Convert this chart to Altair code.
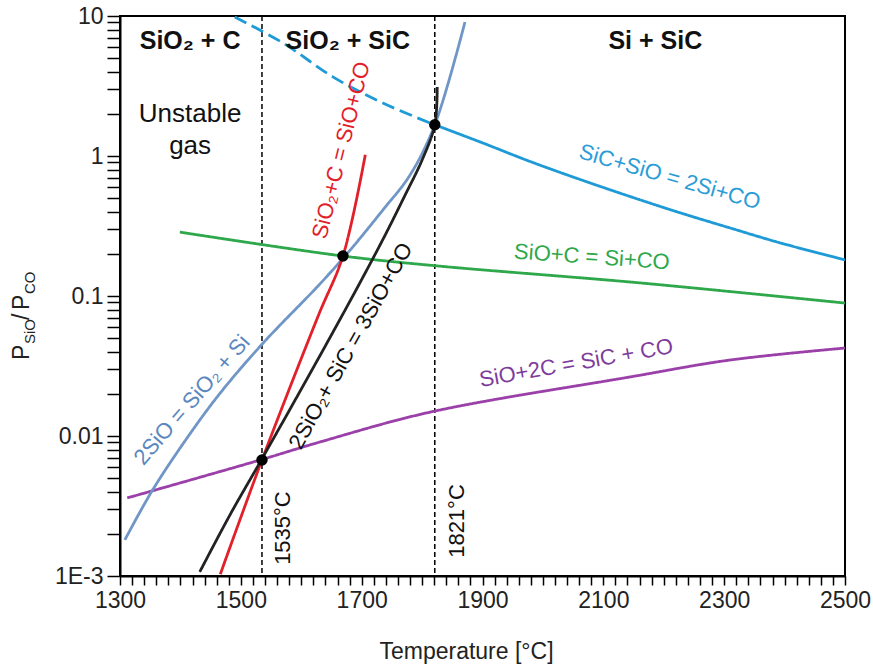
import altair as alt
import pandas as pd

FONT = "Liberation Sans"

# ---- curve data (temperature in degC, PSiO/PCO) ----
sic_sio_dash_T = [1490, 1570, 1653, 1735, 1821]
sic_sio_dash_v = [9.84, 6.41, 3.66, 2.39, 1.67]
sic_sio_T = [1821, 1899, 1979, 2061, 2144, 2227, 2310, 2392, 2500]
sic_sio_v = [1.67, 1.246, 0.913, 0.681, 0.514, 0.393, 0.306, 0.240, 0.181]

sio_c_T = [1399, 1669, 1825, 2161, 2500]
sio_c_v = [0.286, 0.193, 0.164, 0.124, 0.089]

sio_2c_T = [1312, 1532, 1631, 1813, 2144, 2310, 2500]
sio_2c_v = [0.00361, 0.00674, 0.00906, 0.0148, 0.0264, 0.0349, 0.0425]

two_sio_T = [1308, 1353, 1411, 1466, 1537, 1631, 1681, 1735, 1780, 1821, 1871]
two_sio_v = [0.00181, 0.00405, 0.00968, 0.0203, 0.0462, 0.122, 0.213, 0.411, 0.731, 1.67, 9.06]

sio2_c_T = [1466, 1535, 1628, 1669, 1706]
sio2_c_v = [0.00103, 0.00674, 0.072, 0.193, 1.02]

sio2_sic_T = [1432, 1482, 1532, 1590, 1648, 1697, 1739, 1772, 1800, 1821, 1825]
sio2_sic_v = [0.00107, 0.00273, 0.00652, 0.0181, 0.0509, 0.124, 0.273, 0.527, 0.936, 1.67, 3.11]

# invariant points and isotherms
pts_T = [1535, 1669, 1821]
pts_v = [0.00674, 0.193, 1.67]
iso_T = [1535, 1821]

series_names = ["sic_sio_dash", "sic_sio", "sio_c", "sio_2c", "two_sio", "sio2_c", "sio2_sic"]
series_colors = ["#1E9AD6", "#1E9AD6", "#2EA84A", "#9A40A8", "#7096C6", "#E2202A", "#222222"]

series_data = {
    "sic_sio_dash": (sic_sio_dash_T, sic_sio_dash_v),
    "sic_sio": (sic_sio_T, sic_sio_v),
    "sio_c": (sio_c_T, sio_c_v),
    "sio_2c": (sio_2c_T, sio_2c_v),
    "two_sio": (two_sio_T, two_sio_v),
    "sio2_c": (sio2_c_T, sio2_c_v),
    "sio2_sic": (sio2_sic_T, sio2_sic_v),
}

rows = []
for name, (ts, vs) in series_data.items():
    for i, (t, v) in enumerate(zip(ts, vs)):
        rows.append({"series": name, "T": t, "v": v, "order": i,
                     "dashed": name == "sic_sio_dash"})
lines_df = pd.DataFrame(rows)

# curve labels
lab_text = ["SiC+SiO = 2Si+CO", "SiO+C = Si+CO", "SiO+2C = SiC + CO",
            "2SiO = SiO₂ + Si", "2SiO₂+ SiC = 3SiO+CO", "SiO₂+C = SiO+CO",
            "1535°C", "1821°C", "Unstable", "gas"]
lab_T = [2210, 2081, 2055, 1419, 1682, 1666, 1570, 1858, 1416, 1416]
lab_v = [0.708, 0.19, 0.0332, 0.0181, 0.044, 1.1, 0.0022, 0.00247, 2.0, 1.18]
lab_angle = [16, 4, 350, 311, 299, 284, 270, 270, 0, 0]
lab_color = ["#2A9DD8", "#2EA84A", "#7E3C9C", "#5A87BE", "#111111", "#E2202A",
             "#111111", "#111111", "#111111", "#111111"]
lab_size = [22, 22, 22, 22, 22, 22, 22, 22, 26, 26]
labels_df = pd.DataFrame({"text": lab_text, "T": lab_T, "v": lab_v, "angle": lab_angle,
                          "color": lab_color, "size": lab_size})

region_text = ["SiO₂ + C", "SiO₂ + SiC", "Si + SiC"]
region_T = [1416, 1677, 2186]
region_v = [6.6, 6.6, 6.6]
regions_df = pd.DataFrame({"text": region_text, "T": region_T, "v": region_v})

x_ticks = list(range(1300, 2501, 20))
y_ticks = [round(m * 10 ** k, 6) for k in range(-3, 1) for m in range(1, 10)] + [10]

xscale = alt.Scale(domain=[1300, 2500], nice=False, zero=False)
yscale = alt.Scale(type="log", domain=[0.001, 10], nice=False)

xaxis = alt.Axis(values=x_ticks, labelExpr="datum.value % 200 == 100 ? datum.label : ''",
                 format="d", tickSize=9, tickWidth=1.5, tickColor="black",
                 domainColor="black", domainWidth=2, labelFontSize=23, labelColor="#222",
                 labelPadding=4, grid=False, title="Temperature [°C]", titleFontSize=23,
                 titleFontWeight="normal", titleColor="#222", titlePadding=28,
                 titleX=346, titleAlign="center", titleAnchor="start",
                 labelFlush=False, labelOverlap=False)
yaxis = alt.Axis(values=y_ticks,
                 labelExpr="datum.value == 0.001 ? '1E-3' : datum.value == 0.01 ? '0.01' : datum.value == 0.1 ? '0.1' : datum.value == 1 ? '1' : datum.value == 10 ? '10' : ''",
                 tickSize=13, tickWidth=1.5, tickColor="black", domainColor="black",
                 domainWidth=2, labelFontSize=23, labelColor="#222", labelPadding=4,
                 grid=False, title=None, labelFlush=False, labelOverlap=False)

X = alt.X("T:Q", scale=xscale, axis=xaxis)
Y = alt.Y("v:Q", scale=yscale, axis=yaxis)

lines = alt.Chart(lines_df).mark_line(strokeWidth=2.8, interpolate="catmull-rom", clip=True).encode(
    x=X, y=Y,
    color=alt.Color("series:N", scale=alt.Scale(domain=series_names, range=series_colors), legend=None),
    strokeDash=alt.StrokeDash("dashed:N", scale=alt.Scale(domain=[False, True], range=[[1, 0], [13, 6]]), legend=None),
    detail="series:N",
    order="order:Q",
)

iso = alt.Chart(pd.DataFrame({"T": iso_T})).mark_rule(
    color="black", strokeWidth=1.5, strokeDash=[5, 3]).encode(x=X)

points = alt.Chart(pd.DataFrame({"T": pts_T, "v": pts_v})).mark_circle(
    size=130, color="black", opacity=1).encode(x=X, y=Y)

labels = alt.Chart(labels_df).mark_text(font=FONT, align="center", baseline="middle").encode(
    x=X, y=Y, text="text:N",
    angle=alt.Angle("angle:Q", scale=None), color=alt.Color("color:N", scale=None),
    size=alt.Size("size:Q", scale=None))

regions = alt.Chart(regions_df).mark_text(font=FONT, fontWeight="bold", fontSize=25,
                                          color="#111", align="center", baseline="middle").encode(
    x=X, y=Y, text="text:N")

# y axis title built from pieces (P_SiO / P_CO)
def ypiece(txt, px, py, size):
    return alt.Chart(pd.DataFrame({"t": [txt]})).mark_text(
        font=FONT, fontSize=size, angle=270, align="left", baseline="alphabetic", color="#222"
    ).encode(x=alt.value(px), y=alt.value(py), text="t:N")

ytitle = (ypiece("P", -91, 344, 23) + ypiece("SiO", -85, 328, 15) + ypiece("/", -91, 304, 23)
          + ypiece("P", -91, 294, 23) + ypiece("CO", -85, 278, 15))

chart = alt.layer(iso, lines, points, labels, regions, ytitle).properties(
    width=725, height=560,
    autosize=alt.AutoSizeParams(type="none"),
    padding={"left": 120, "top": 16, "right": 28, "bottom": 90},
).configure(font=FONT).configure_view(stroke="black", strokeWidth=2)

chart.save("out.html", embed_options={"renderer": "svg", "actions": False})
